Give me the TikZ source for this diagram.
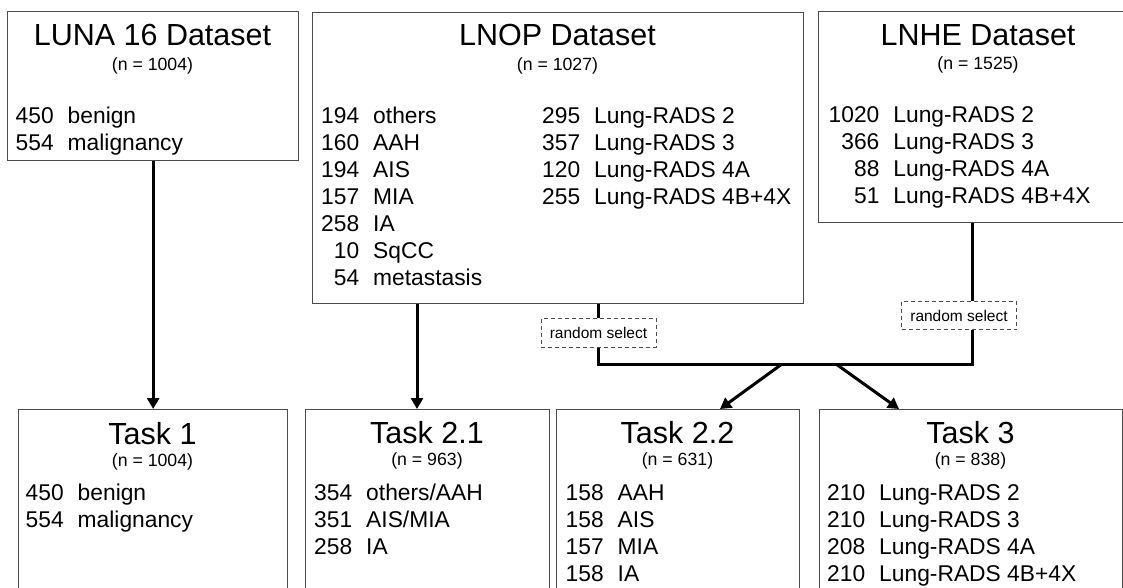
\documentclass[tikz,border=0pt]{standalone}
\usepackage{fontspec}
\setmainfont{Liberation Sans}
\usetikzlibrary{arrows.meta}
\newcommand{\nlist}[1]{\begin{tabular}[t]{@{}r@{\hspace{14pt}}l@{}}#1\end{tabular}}

\begin{document}
\begin{tikzpicture}[x=1pt, y=-1pt,
  box/.style={draw=black!70, line width=1.3pt, rectangle, inner sep=0pt, anchor=north west, minimum height=200pt},
  head/.style={anchor=base, inner sep=0pt, font=\fontsize{30.5}{34}\selectfont},
  count/.style={anchor=base, inner sep=0pt, font=\fontsize{17.7}{20}\selectfont},
  items/.style={anchor=base west, inner sep=0pt, font=\fontsize{22.8}{27}\selectfont},
  pick/.style={draw=black!70, line width=1pt, dash pattern=on 4pt off 3pt, fill=white, minimum width=115pt, minimum height=28.5pt, inner sep=0pt, font=\fontsize{15.5}{18}\selectfont},
  link/.style={line width=3pt},
  arr/.style={line width=3pt, -{Triangle[length=11pt,width=12pt]}}]
\useasboundingbox (0,0) rectangle (1123,587);
\clip (0,0) rectangle (1123,587);
% datasets
\node[box, minimum width=291pt, minimum height=149pt] (luna) at (7,11) {};
\node[head] (lunaT) at (152.5,45) {LUNA 16 Dataset};
\node[count] (lunaN) at (152.5,70) {(n = 1004)};
\node[items] (lunaL) at (15.5,123) {\nlist{450 & benign\\ 554 & malignancy}};

\node[box, minimum width=491pt, minimum height=291pt] (lnop) at (312,12) {};
\node[head] (lnopT) at (557.5,45) {LNOP Dataset};
\node[count] (lnopN) at (557.5,70) {(n = 1027)};
\node[items] (lnopL) at (321,123) {\nlist{194 & others\\ 160 & AAH\\ 194 & AIS\\ 157 & MIA\\ 258 & IA\\ 10 & SqCC\\ 54 & metastasis}};
\node[items] (lnopR) at (542,123) {\nlist{295 & Lung-RADS 2\\ 357 & Lung-RADS 3\\ 120 & Lung-RADS 4A\\ 255 & Lung-RADS 4B+4X}};

\node[box, minimum width=322pt, minimum height=211pt] (lnhe) at (818,11) {};
\node[head] (lnheT) at (978,45) {LNHE Dataset};
\node[count] (lnheN) at (978,69) {(n = 1525)};
\node[items] (lnheL) at (828.5,122) {\nlist{1020 & Lung-RADS 2\\ 366 & Lung-RADS 3\\ 88 & Lung-RADS 4A\\ 51 & Lung-RADS 4B+4X}};

% tasks
\node[box, minimum width=269pt] (task1) at (18,409) {};
\node[head] (task1T) at (152.5,444) {Task 1};
\node[count] (task1N) at (152.5,466) {(n = 1004)};
\node[items] (task1L) at (25.5,500) {\nlist{450 & benign\\ 554 & malignancy}};

\node[box, minimum width=244pt] (task21) at (305,409) {};
\node[head] (task21T) at (427,443) {Task 2.1};
\node[count] (task21N) at (427,465) {(n = 963)};
\node[items] (task21L) at (314,500) {\nlist{354 & others/AAH\\ 351 & AIS/MIA\\ 258 & IA}};

\node[box, minimum width=243pt] (task22) at (556,409) {};
\node[head] (task22T) at (677.5,443) {Task 2.2};
\node[count] (task22N) at (677.5,465) {(n = 631)};
\node[items] (task22L) at (565.5,500) {\nlist{158 & AAH\\ 158 & AIS\\ 157 & MIA\\ 158 & IA}};

\node[box, minimum width=303pt] (task3) at (819,409) {};
\node[head] (task3T) at (970.5,443) {Task 3};
\node[count] (task3N) at (970.5,465) {(n = 838)};
\node[items] (task3L) at (827,500) {\nlist{210 & Lung-RADS 2\\ 210 & Lung-RADS 3\\ 208 & Lung-RADS 4A\\ 210 & Lung-RADS 4B+4X}};

% random selection
\node[pick] (rs1) at (598.5,333) {random select};
\node[pick] (rs2) at (959,315.5) {random select};
\coordinate (a21) at (417,0);
\coordinate (j2) at (972,364);
\coordinate (s1) at (782,364);
\coordinate (s2) at (836,364);
\coordinate (t22) at (720,409);
\coordinate (t3) at (899,409);

\draw[arr] (luna) -- (task1);
\draw[arr] (lnop.south -| a21) -- (task21.north -| a21);
\draw[link] (lnop.south -| rs1) -- (rs1.north);
\draw[link] (rs1.south) |- (j2) -- (rs2.south -| j2);
\draw[link] (rs2.north -| j2) -- (lnhe.south -| j2);
\draw[arr] (s1) -- (t22);
\draw[arr] (s2) -- (t3);
\end{tikzpicture}
\end{document}
